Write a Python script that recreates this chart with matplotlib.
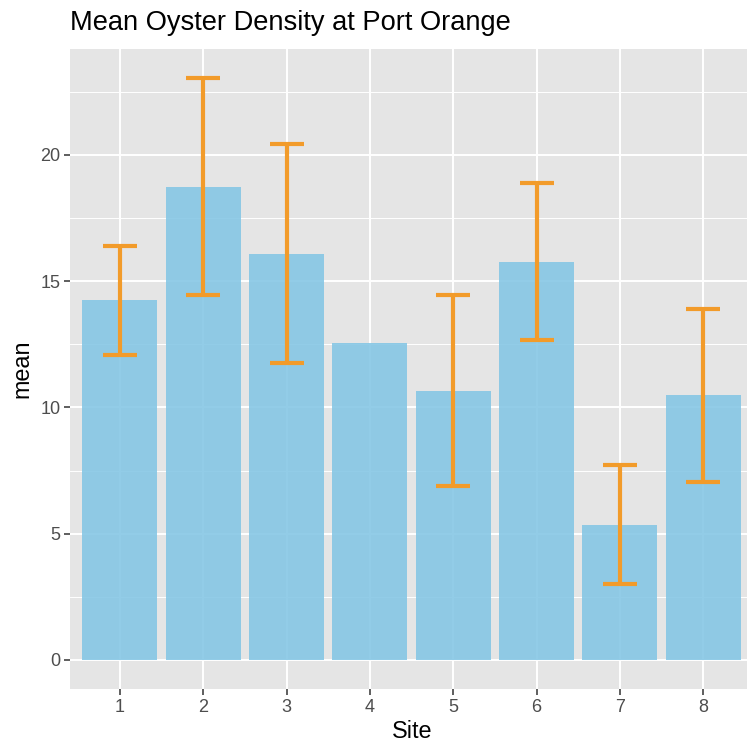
import numpy as np
import matplotlib
matplotlib.use("Agg")
import matplotlib.pyplot as plt
from matplotlib.ticker import MultipleLocator

# Dados
sites = [1, 2, 3, 4, 5, 6, 7, 8]
mean = [14.24, 18.75, 16.09, 12.57, 10.67, 15.78, 5.35, 10.48]
se = [2.16, 4.28, 4.33, np.nan, 3.79, 3.12, 2.36, 3.43]

plt.rcParams['font.family'] = ['Liberation Sans', 'DejaVu Sans']

fig = plt.figure(figsize=(7.47, 7.47), dpi=100)
# painel no estilo ggplot, cortado à direita como na imagem original
ax = fig.add_axes([70 / 747, 1 - 689 / 747, 683.3 / 747, 640.3 / 747])
ax.set_facecolor('#E5E5E5')

ax.bar(sites, mean, width=0.9, color='#83C6E4', alpha=0.88, zorder=3)
ax.errorbar(sites, mean, yerr=se, fmt='none', ecolor='#F29B2A',
            elinewidth=3.0, capsize=12, capthick=3.0, zorder=4)

ax.set_xlim(0.4, 8.6)
ax.set_ylim(-1.153, 24.21)
ax.set_xticks(sites)
ax.yaxis.set_major_locator(MultipleLocator(5))
ax.yaxis.set_minor_locator(MultipleLocator(2.5))

ax.grid(which='major', color='white', linewidth=1.4, zorder=1)
ax.grid(which='minor', axis='y', color='white', linewidth=0.7, zorder=1)
ax.set_axisbelow(True)
for s in ax.spines.values():
    s.set_visible(False)

ax.tick_params(which='major', length=4, width=1.1, color='#333333',
               labelcolor='#4D4D4D', labelsize=13, pad=3)
ax.tick_params(which='minor', length=0)

ax.set_xlabel('Site', fontsize=16.8, color='black', labelpad=3)
ax.set_ylabel('mean', fontsize=16.8, color='black', labelpad=5)
fig.text(70 / 747, 1 - 30 / 747, 'Mean Oyster Density at Port Orange',
         fontsize=19.6, ha='left', va='baseline', color='black')

fig.savefig('out.png', dpi=100)
